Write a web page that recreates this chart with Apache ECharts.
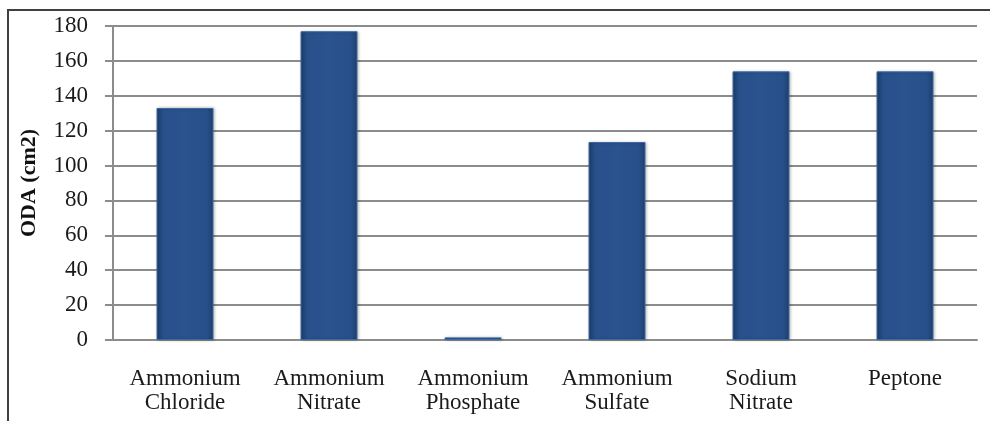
<!DOCTYPE html>
<html>
<head>
<meta charset="utf-8">
<script src="https://cdn.jsdelivr.net/npm/echarts@6/dist/echarts.min.js"></script>
<style>
  html, body { margin: 0; padding: 0; background: #fff; }
  #frame { position: absolute; left: 7px; top: 9px; width: 990px; height: 420px;
           border-left: 2px solid #404040; border-top: 2px solid #404040; box-sizing: border-box; }
  #chart { position: absolute; left: 0; top: 0; width: 990px; height: 421px; }
</style>
</head>
<body>
<div id="frame"></div>
<div id="chart"></div>
<script>
// Nitrogen sources and the measured ODA values (cm2)
const categories = [
  'Ammonium\nChloride',
  'Ammonium\nNitrate',
  'Ammonium\nPhosphate',
  'Ammonium\nSulfate',
  'Sodium\nNitrate',
  'Peptone'
];
const odaValues = [133, 177, 1.5, 113.5, 154, 154];
const yTicks = { min: 0, max: 180, step: 20 };

const serif = "'Liberation Serif', 'Times New Roman', serif";

const chart = echarts.init(document.getElementById('chart'), null, { renderer: 'canvas' });

const barFill = new echarts.graphic.LinearGradient(0, 0, 1, 0, [
  { offset: 0, color: '#1d3f6e' },
  { offset: 0.12, color: '#28508a' },
  { offset: 0.5, color: '#2a548e' },
  { offset: 0.88, color: '#28508a' },
  { offset: 1, color: '#1d3f6e' }
]);

chart.setOption({
  animation: false,
  backgroundColor: 'transparent',
  grid: { left: 113, right: 13, top: 26, bottom: 81, containLabel: false },
  xAxis: {
    type: 'category',
    data: categories,
    axisLine: { show: true, lineStyle: { color: '#8c8c8c', width: 2 } },
    axisTick: { show: false },
    axisLabel: {
      margin: 27,
      interval: 0,
      fontFamily: serif,
      fontSize: 23,
      lineHeight: 24,
      color: '#1a1a1a'
    }
  },
  yAxis: {
    type: 'value',
    min: yTicks.min,
    max: yTicks.max,
    interval: yTicks.step,
    name: 'ODA (cm2)',
    nameLocation: 'middle',
    nameGap: 73,
    nameRotate: 90,
    nameTextStyle: {
      fontFamily: serif,
      fontWeight: 'bold',
      fontSize: 22,
      color: '#111'
    },
    axisLine: { show: true, lineStyle: { color: '#8c8c8c', width: 2 } },
    axisTick: { show: true, inside: false, length: 8, lineStyle: { color: '#8c8c8c', width: 2 } },
    axisLabel: {
      margin: 25,
      fontFamily: serif,
      fontSize: 23,
      color: '#1a1a1a'
    },
    splitLine: { show: true, lineStyle: { color: '#8c8c8c', width: 2 } }
  },
  series: [{
    type: 'bar',
    data: odaValues,
    barWidth: 57,
    itemStyle: {
      color: barFill,
      borderColor: '#3d6aa6',
      borderWidth: 1,
      shadowColor: 'rgba(0,0,0,0.25)',
      shadowBlur: 3,
      shadowOffsetX: 1
    }
  }]
});
</script>
</body>
</html>
